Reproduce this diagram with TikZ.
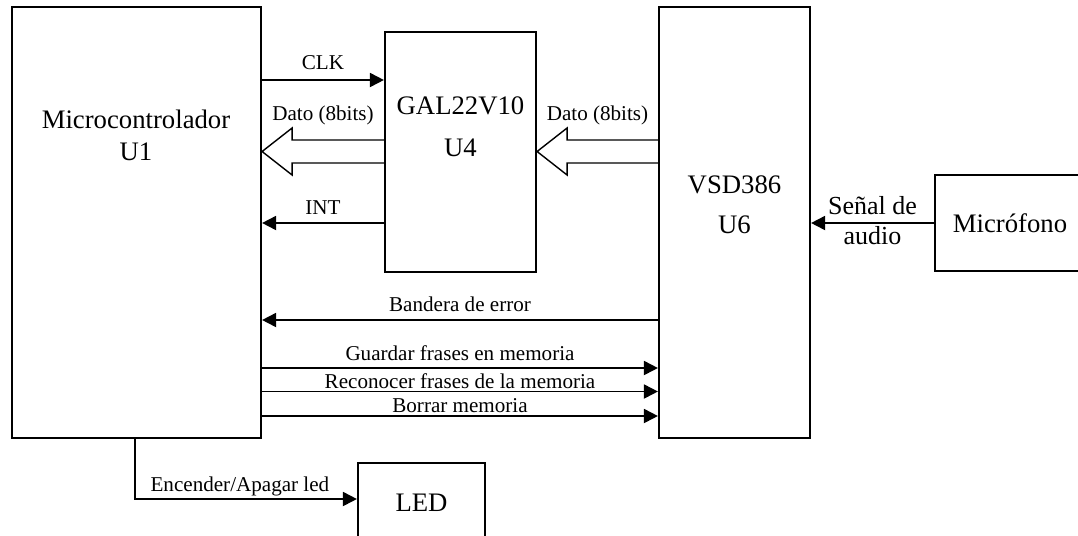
\documentclass[tikz,border=0pt]{standalone}
\usepackage{fontspec}
\setmainfont{Liberation Serif}
\usetikzlibrary{arrows.meta, positioning, calc}

\tikzset{
  block/.style={draw, rectangle, line width=1.5pt, inner sep=0pt},
  arrow/.style={line width=1.3pt, -{Triangle[length=0.35cm, width=0.35cm]}},
  bus/.style={line width=1pt, line join=miter},
  lbl/.style={font=\fontsize{15}{18}\selectfont, inner sep=0pt},
  big/.style={font=\fontsize{19}{23}\selectfont, align=center, inner sep=0pt},
}

% hollow 8-bit data arrow: start, tip, label
\newcommand{\busarrow}[3]{%
  \draw[bus] ($(#1)+(0,-11.5)$) -| ($(#2)+(30,-23.5)$) -- (#2) -- ($(#2)+(30,23.5)$) |- ($(#1)+(0,11.5)$);
  \path (#1) -- node[lbl, above=0.66cm] {#3} (#2);}

\begin{document}
\begin{tikzpicture}[x=0.025cm, y=-0.025cm]
    \useasboundingbox (0,0) rectangle (1078,535);

    % blocks
    \node (u1) [block, minimum width=6.225cm, minimum height=10.775cm] at (136.5,222.5) {};
    \node (gal) [block, minimum width=3.775cm, minimum height=6cm] at (460.5,152) {};
    \node (vsd) [block, minimum width=3.775cm, minimum height=10.775cm] at (734.5,222.5) {};
    \node (mic) [block, minimum width=3.75cm, minimum height=2.4cm, font=\fontsize{19}{23}\selectfont] at (1010,223) {Micr\'ofono};
    \node (led) [block, minimum width=3.175cm, minimum height=2cm, font=\fontsize{19}{23}\selectfont] at (421.5,503) {LED};

    \node (u1txt) [big, font=\fontsize{19}{22.7}\selectfont] at (136,135) {Microcontrolador\\U1};
    \node (galtxt) [big, font=\fontsize{19}{29.8}\selectfont] at (460.5,127) {GAL22V10\\U4};
    \node (vsdtxt) [big, font=\fontsize{19}{28.4}\selectfont] at (734.5,205) {VSD386\\U6};

    % signal levels
    \coordinate (yclk) at (0,80);
    \coordinate (ydat) at (0,151.5);
    \coordinate (yint) at (0,223);
    \coordinate (yerr) at (0,320);
    \coordinate (ygua) at (0,368);
    \coordinate (yrec) at (0,391.5);
    \coordinate (ybor) at (0,416);

    % connections
    \draw [arrow] (u1.east |- yclk) -- node[lbl, above=0.225cm] {CLK} (gal.west |- yclk);
    \busarrow{gal.west |- ydat}{u1.east |- ydat}{Dato (8bits)}
    \busarrow{vsd.west |- ydat}{gal.east |- ydat}{Dato (8bits)}
    \draw [arrow] (gal.west |- yint) -- node[lbl, above=0.2cm] {INT} (u1.east |- yint);
    \draw [arrow] (vsd.west |- yerr) -- node[lbl, above=0.175cm] {Bandera de error} (u1.east |- yerr);
    \draw [arrow] (u1.east |- ygua) -- node[lbl, above=0.15cm] {Guardar frases en memoria} (vsd.west |- ygua);
    \draw [arrow] (u1.east |- yrec) -- node[lbl, above=0.04cm] {Reconocer frases de la memoria} (vsd.west |- yrec);
    \draw [arrow] (u1.east |- ybor) -- node[lbl, above=0.07cm] {Borrar memoria} (vsd.west |- ybor);
    \draw [arrow] (mic.west) -- node[big, font=\fontsize{18.5}{21.3}\selectfont, yshift=2pt] {Se\~nal de\\audio} (mic.west -| vsd.east);
    \draw [arrow] ([xshift=-0.04cm]u1.south) |- ([yshift=0.1cm]led.west) node[lbl, pos=0.75, above=0.06cm, xshift=-0.15cm] {Encender/Apagar led};
\end{tikzpicture}
\end{document}
